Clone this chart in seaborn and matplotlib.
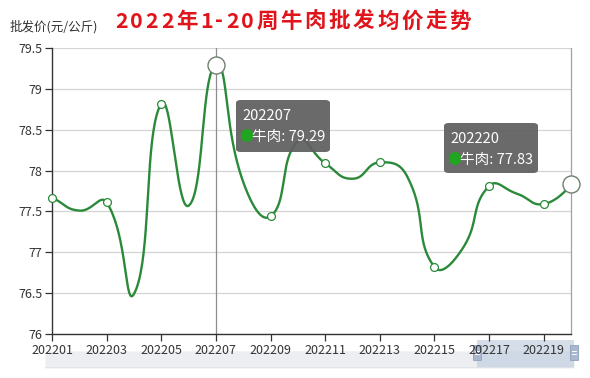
import numpy as np
import matplotlib
matplotlib.use("Agg")
import matplotlib.pyplot as plt
from matplotlib.patches import FancyBboxPatch, Rectangle
import seaborn as sns
import pandas as pd

# data
weeks = [f"2022{i:02d}" for i in range(1, 21)]
prices = [77.67, 77.51, 77.61, 76.49, 78.82, 77.57, 79.29, 77.86, 77.44, 78.36,
          78.09, 77.90, 78.10, 77.93, 76.82, 77.03, 77.81, 77.72, 77.59, 77.83]
series_name = "牛肉"
title = "2022年1-20周牛肉批发均价走势"
y_name = "批发价(元/公斤)"
y_ticks = [76, 76.5, 77, 77.5, 78, 78.5, 79, 79.5]
tooltip_idx = [6, 19]

sns.set_theme(style="white")
plt.rcParams['font.family'] = ['Noto Sans CJK SC', 'DejaVu Sans']

W, H = 590, 378
fig = plt.figure(figsize=(W / 100, H / 100), dpi=100)
fig.patch.set_facecolor("white")

def fx(px):
    return px / W

def fy(py):
    return 1 - py / H

line_c = "#2b8a3a"


def smooth_line(xs, ys, sx, sy, s=0.5, n=40):
    # echarts-like bezier smoothing done in pixel space
    P = np.column_stack([np.asarray(xs, float) * sx, np.asarray(ys, float) * sy])
    m = len(P)
    cp_out = np.zeros_like(P)
    cp_in = np.zeros_like(P)
    for i in range(m):
        prev = P[i - 1] if i > 0 else P[i]
        if i == m - 1:
            cp_out[i] = P[i]
            cp_in[i] = P[i]
            continue
        nxt = P[i + 1]
        v = nxt - prev
        l0 = np.hypot(*(P[i] - prev))
        l1 = np.hypot(*(nxt - P[i]))
        r = l1 / (l0 + l1)
        cp_out[i] = P[i] + v * s * r
        cp_in[i] = P[i] - v * s * (1 - r)
    t = np.linspace(0, 1, n)[:, None]
    out = []
    for i in range(m - 1):
        a, b, c, d = P[i], cp_out[i], cp_in[i + 1], P[i + 1]
        seg = (1 - t) ** 3 * a + 3 * (1 - t) ** 2 * t * b + 3 * (1 - t) * t ** 2 * c + t ** 3 * d
        out.append(seg if i == 0 else seg[1:])
    out = np.vstack(out)
    return out[:, 0] / sx, out[:, 1] / sy


idx = np.arange(len(weeks))

# data zoom slider (drawn first, under the axis labels)
sl = fig.add_axes([fx(45), fy(368), fx(574) - fx(45), fy(340) - fy(368)])
sl.set_zorder(0)
sl.fill_between(idx, prices, 0, color="#eceef2", lw=0)
sl.set_xlim(0, len(weeks) - 1)
sl.set_ylim(0, max(prices) * 1.6)
sl.set_xticks([])
sl.set_yticks([])
for s in sl.spines.values():
    s.set_visible(False)
sl.axhline(0, color="#dfe2e8", lw=1.2)
sl.patch.set_alpha(0)
sl.add_patch(Rectangle((0.817, 0), 0.183, 1, transform=sl.transAxes,
                       facecolor="#c4cfe0", alpha=0.7, edgecolor="none"))
for hx in [0.817, 1.0]:
    sl.add_patch(Rectangle((hx - 0.007, 0.28), 0.014, 0.55, transform=sl.transAxes,
                           facecolor="#a9b8cf", edgecolor="#8fa2bf", lw=0.6, clip_on=False))
    for hy in [0.5, 0.6]:
        sl.plot([hx - 0.004, hx + 0.004], [hy, hy], transform=sl.transAxes,
                color="white", lw=0.7, clip_on=False)

ax = fig.add_axes([fx(52), fy(334), fx(571) - fx(52), fy(48) - fy(334)])
ax.set_zorder(2)

sx_, sy_ = smooth_line(idx, prices, 27.3, 81.7)
curve = pd.DataFrame({"x": sx_, "y": sy_})

# grid
for v in y_ticks:
    ax.axhline(v, color="#d4d4d4", lw=0.9, zorder=0)
# axis pointer
ax.axvline(tooltip_idx[0], color="#8c8c8c", lw=0.9, zorder=1)

sns.lineplot(data=curve, x="x", y="y", color=line_c, lw=1.7, ax=ax, sort=False, zorder=3)

df = pd.DataFrame({"x": idx, "price": prices})
small = df[(df["x"] % 2 == 0) & (~df["x"].isin(tooltip_idx))]
sns.scatterplot(data=small, x="x", y="price", s=32, color="white", edgecolor=line_c,
                linewidth=0.9, ax=ax, zorder=4, clip_on=False)
big = df[df["x"].isin(tooltip_idx)]
sns.scatterplot(data=big, x="x", y="price", s=150, color="white", edgecolor="#6f7f6f",
                linewidth=1.0, ax=ax, zorder=5, clip_on=False)

ax.set_xlim(0, len(weeks) - 1)
ax.set_ylim(76, 79.5)
ax.set_yticks(y_ticks)
ax.set_yticklabels([f"{v:g}" for v in y_ticks], fontsize=9, color="#333333")
ax.set_xticks(idx[::2])
ax.set_xticklabels(weeks[::2], fontsize=9, color="#333333")
ax.set_xlabel("")
ax.set_ylabel("")
ax.tick_params(axis="both", which="both", length=5, width=0.9, color="#333333", pad=2,
               bottom=True, left=True)
for s in ["left", "bottom"]:
    ax.spines[s].set_color("#333333")
    ax.spines[s].set_linewidth(1.0)
ax.spines["top"].set_visible(False)
ax.spines["right"].set_color("#a0a0a0")
ax.spines["right"].set_linewidth(0.9)
ax.set_facecolor("white")

# title with letter spacing
fig.canvas.draw()
renderer = fig.canvas.get_renderer()
x_px = 115
for ch in title:
    t = fig.text(fx(x_px), fy(21), ch, fontsize=15.5, fontweight="bold", color="#e0151b",
                 ha="left", va="center")
    bb = t.get_window_extent(renderer=renderer)
    x_px += bb.width + 2.6

fig.text(fx(10), fy(27), y_name, fontsize=9, color="#333333", ha="left", va="center")

# tooltips
boxes = [(236, 100, 94, 52), (444, 123, 94, 50)]
for i, (bx, by, bw, bh) in zip(tooltip_idx, boxes):
    patch = FancyBboxPatch((fx(bx), fy(by + bh)), fx(bw), bh / H,
                           boxstyle="round,pad=0,rounding_size=0.008",
                           transform=fig.transFigure, facecolor="#5f5f5f", alpha=0.93,
                           edgecolor="none", zorder=10)
    fig.patches.append(patch)
    fig.text(fx(bx + 6), fy(by + 16), weeks[i], fontsize=10.5, color="white",
             ha="left", va="center", zorder=11)
    fig.text(fx(bx + 3), fy(by + 37), "●", fontsize=10, color="#1fa51f",
             ha="left", va="center", zorder=11)
    fig.text(fx(bx + 16), fy(by + 37), f"{series_name}: {prices[i]:.2f}", fontsize=10.5,
             color="white", ha="left", va="center", zorder=11)

fig.savefig("out.png", dpi=100)
